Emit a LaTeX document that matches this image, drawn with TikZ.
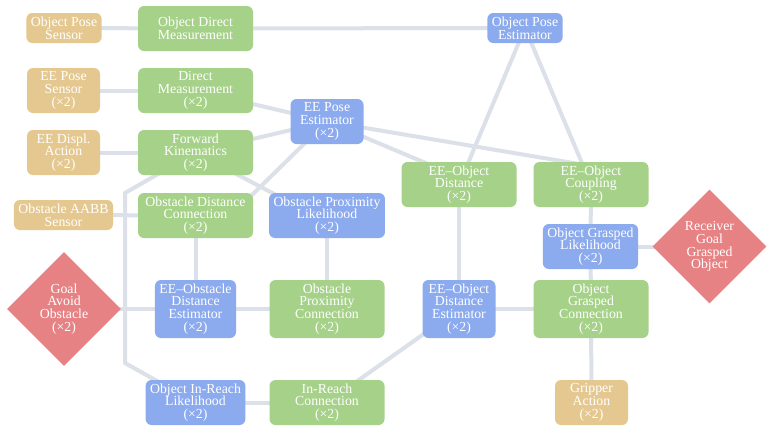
\documentclass[tikz,border=0pt]{standalone}
\usepackage{fontspec}
\setmainfont{Liberation Serif}
\usetikzlibrary{shapes.geometric,backgrounds,calc}
\definecolor{cyel}{HTML}{E5C890}
\definecolor{cgrn}{HTML}{A6D189}
\definecolor{cblu}{HTML}{8CAAEE}
\definecolor{cred}{HTML}{E78284}
\definecolor{cedge}{HTML}{DCE0E8}
\begin{document}
\begin{tikzpicture}[x=1pt,y=-1pt,
  box/.style={rounded corners=6pt, align=center, text=white,
    font=\fontsize{13.8}{12.8}\selectfont, inner xsep=4.5pt, inner ysep=1pt,
    execute at begin node={\rule{0pt}{12pt}}},
  sens/.style={box, fill=cyel, minimum width=73pt},
  fac/.style={box, fill=cgrn, minimum width=115pt, minimum height=45pt},
  est/.style={box, fill=cblu, minimum width=73pt},
  goal/.style={diamond, aspect=1, fill=cred, text=white, align=center,
    font=\fontsize{13.8}{12.8}\selectfont, inner sep=0pt,
    minimum width=114pt, minimum height=114pt},
  htwo/.style={minimum height=30pt},
  hthree/.style={minimum height=45pt},
  hfour/.style={minimum height=58pt},
  link/.style={draw=cedge, line width=4pt}]
\useasboundingbox (0,0) rectangle (774,432);

% row 1
\node[sens,htwo] (ops) at (64,28) {Object Pose\\Sensor};
\node[fac] (odm) at (195.5,28.5) {Object Direct\\Measurement};
\node[est,htwo] (ope) at (525,28) {Object Pose\\Estimator};
% row 2
\node[sens,hthree] (eps) at (63.5,90.5) {EE Pose\\Sensor\\(×2)};
\node[fac] (dm) at (195.5,90.5) {Direct\\Measurement\\(×2)};
\node[est,hthree] (epe) at (327,121.5) {EE Pose\\Estimator\\(×2)};
% row 3
\node[sens,hthree] (eda) at (63.5,152.5) {EE Displ.\\Action\\(×2)};
\node[fac] (fk) at (195.5,152.5) {Forward\\Kinematics\\(×2)};
\node[fac] (eod) at (459,184.5) {EE–Object\\Distance\\(×2)};
\node[fac] (eoc) at (591,184.5) {EE–Object\\Coupling\\(×2)};
% row 4
\node[sens,htwo] (aabb) at (63.5,215) {Obstacle AABB\\Sensor};
\node[fac] (odc) at (195.5,215.5) {Obstacle Distance\\Connection\\(×2)};
\node[est,hthree] (opl) at (327,215.5) {Obstacle Proximity\\Likelihood\\(×2)};
\node[est,hthree] (ogl) at (590.5,246.5) {Object Grasped\\Likelihood\\(×2)};
\node[goal] (rgo) at (709.5,246.5) {Receiver\\Goal\\Grasped\\Object};
% row 5
\node[goal] (gao) at (64,309) {Goal\\Avoid\\Obstacle\\(×2)};
\node[est,hfour] (eode) at (195.5,309) {EE–Obstacle\\Distance\\Estimator\\(×2)};
\node[fac,hfour] (opc) at (327,309) {Obstacle\\Proximity\\Connection\\(×2)};
\node[est,hfour] (eoe) at (459,309) {EE–Object\\Distance\\Estimator\\(×2)};
\node[fac,hfour] (ogc) at (591,309) {Object\\Grasped\\Connection\\(×2)};
% row 6
\node[est,hthree] (oirl) at (195.5,402.5) {Object In-Reach\\Likelihood\\(×2)};
\node[fac] (irc) at (327,402.5) {In-Reach\\Connection\\(×2)};
\node[sens,hthree] (ga) at (591.5,402.5) {Gripper\\Action\\(×2)};

\coordinate (b1) at (125,193);
\coordinate (b2) at (125,363);

\begin{pgfonlayer}{background}
\fill[white] (0,0) rectangle (774,432);
\draw[link] (ops.center) -- (odm.center);
\draw[link] (odm.center) -- (ope.center);
\draw[link] (eps.center) -- (dm.center);
\draw[link] (dm.center) -- (epe.center);
\draw[link] (eda.center) -- (fk.center);
\draw[link] (fk.center) -- (epe.center);
\draw[link] (epe.center) -- ([yshift=7.5pt]eod.center);
\draw[link] (epe.center) -- ([yshift=18.5pt]eoc.center);
\draw[link] (ope.center) -- (eod.center);
\draw[link] (ope.center) -- (eoc.center);
\draw[link] (epe.center) -- ([xshift=35.5pt]odc.center);
\draw[link] (fk.center) -- ([xshift=-12pt]opl.center);
\draw[link] (fk.center) -- (b1) -- (b2) -- (oirl.center);
\draw[link] (aabb.center) -- (odc.center);
\draw[link] (gao.center) -- (eode.center);
\draw[link] (odc.center) -- (eode.center);
\draw[link] (opl.center) -- (opc.center);
\draw[link] (eode.center) -- (opc.center);
\draw[link] (oirl.center) -- (irc.center);
\draw[link] (irc.center) -- (eoe.center);
\draw[link] (eod.center) -- (eoe.center);
\draw[link] (eoe.center) -- (ogc.center);
\draw[link] (eoc.center) -- (ogl.center);
\draw[link] (ogl.center) -- (ogc.center);
\draw[link] (ogl.center) -- (rgo.center);
\draw[link] (ogc.center) -- (ga.center);
\end{pgfonlayer}
\end{tikzpicture}
\end{document}
